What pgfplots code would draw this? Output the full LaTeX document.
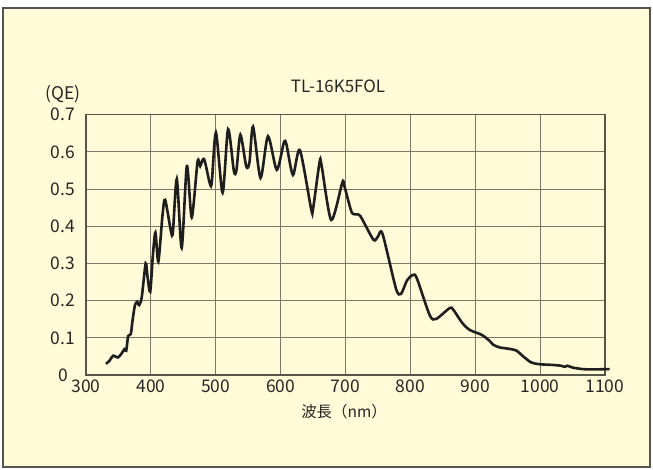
\documentclass[border=0pt]{standalone}
\usepackage{pgfplots}
\pgfplotsset{compat=1.18}
\usepackage{fontspec}
\setmainfont{Noto Sans CJK JP}
\definecolor{cream}{RGB}{255,250,215}
\definecolor{gridc}{RGB}{125,120,105}
\definecolor{framec}{RGB}{85,85,85}
\definecolor{curve}{RGB}{30,30,30}
\begin{document}
\begin{tikzpicture}
% page and panel
\fill[white] (-86bp,-95bp) rectangle (567bp,375bp);
\draw[framec, line width=1.2bp, fill=cream] (-83bp,-92bp) rectangle (564bp,367bp);

\begin{axis}[%
	scale only axis,
	width=519bp, height=260.3bp,
	xmin=300, xmax=1100,
	ymin=0, ymax=0.7,
	xtick={300,400,500,600,700,800,900,1000,1100},
	xticklabels={300,400,500,600,700,800,900,1000,1100},
	ytick={0,0.1,0.2,0.3,0.4,0.5,0.6,0.7},
	yticklabels={0,0.1,0.2,0.3,0.4,0.5,0.6,0.7},
	/pgf/number format/assume math mode=true,
	major tick length=0pt,
	grid=major,
	major grid style={gridc, line width=1bp},
	axis line style={gridc!70!black, line width=1.2bp},
	tick label style={font=\fontsize{17.5}{20}\selectfont, text=black!85},
	xticklabel style={yshift=-1bp},
	yticklabel style={anchor=center, xshift=-23bp},
	clip=false,
	]

\addplot[curve, line width=2.6bp, smooth, tension=0.45] coordinates {
	(330.8,0.030) (336,0.038) (342,0.052) (349,0.047) (355,0.058)
	(359,0.069) (362,0.065) (365,0.105) (369,0.110) (372,0.150)
	(375.5,0.188) (379,0.197) (382,0.188) (386,0.210) (392,0.300)
	(395,0.262) (399,0.224) (403,0.320) (407,0.383) (411.5,0.305)
	(418,0.431) (422,0.471) (431,0.386) (434,0.385) (440,0.527)
	(447.5,0.342) (455.5,0.562) (463,0.424) (472,0.574) (476,0.562)
	(482,0.581) (491,0.514) (494,0.520) (500.3,0.652) (510.6,0.490)
	(519,0.661) (528,0.548) (532,0.552) (538,0.646) (547,0.561)
	(552,0.572) (557.5,0.668) (569,0.530) (580.5,0.642) (594,0.552)
	(605,0.625) (609,0.620) (619,0.538) (629.7,0.605) (647,0.447)
	(650,0.447) (660,0.572) (663,0.565) (678,0.417) (695,0.517)
	(698,0.510) (709,0.440) (715,0.432) (723,0.427) (743,0.364)
	(750,0.372) (757,0.380) (777.7,0.233) (785.5,0.218) (795,0.255)
	(804,0.269) (810,0.260) (830,0.160) (840,0.151) (860.5,0.180)
	(866,0.176) (880,0.140) (891.7,0.121) (910,0.108) (922,0.092)
	(928,0.081) (938,0.074) (950,0.071) (963,0.066) (974,0.050)
	(986,0.034) (999,0.029) (1020,0.027) (1032,0.025) (1038,0.022)
	(1042,0.025) (1050,0.020) (1065,0.016) (1080,0.015) (1107,0.016)
};

\end{axis}

\node[font=\fontsize{17}{20}\selectfont, text=black!85] at (252bp,289bp) {TL-16K5FOL};
\node[font=\fontsize{17.5}{20}\selectfont, text=black!85] at (-23bp,281bp) {(QE)};
\node[font=\fontsize{15.5}{18}\selectfont, text=black!85] at (258bp,-37bp) {波長（nm）};
\end{tikzpicture}
\end{document}
